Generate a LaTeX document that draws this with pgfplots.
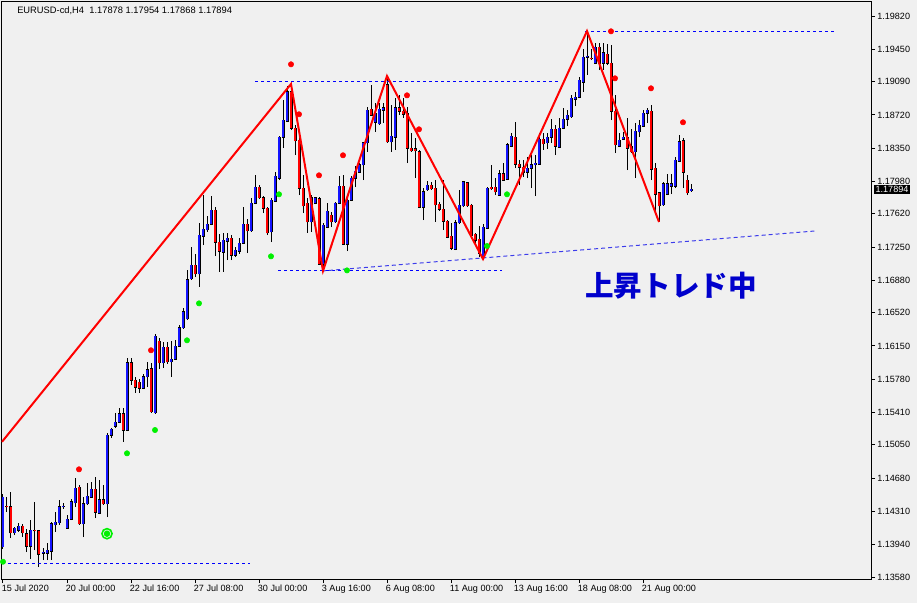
\documentclass[border=0pt]{standalone}
\usepackage{pgfplots}
\pgfplotsset{compat=1.18}
\usepackage{pgfplotstable}
\usepackage{fontspec}
\setmainfont{Liberation Sans}
\newfontfamily\cjk{Noto Sans CJK JP}
\definecolor{bg}{RGB}{240,240,240}
\definecolor{upc}{RGB}{20,20,255}
\definecolor{dnc}{RGB}{255,0,0}
\definecolor{jp}{RGB}{0,0,204}
\definecolor{dotg}{RGB}{0,240,0}
\definecolor{dotr}{RGB}{255,0,0}
\definecolor{lvl}{RGB}{0,0,255}
\definecolor{trend}{RGB}{60,60,235}

\pgfplotstableread{
i O H L C
0 1.13914 1.14504 1.13892 1.14470
1 1.14370 1.14470 1.14303 1.14359
2 1.14359 1.14526 1.14014 1.14070
3 1.14070 1.14136 1.14047 1.14125
4 1.14103 1.14181 1.14081 1.14147
5 1.14147 1.14170 1.14025 1.14070
6 1.14059 1.14114 1.13858 1.13925
7 1.13925 1.14214 1.13780 1.14103
8 1.14103 1.14415 1.13880 1.14092
9 1.14092 1.14103 1.13691 1.13836
10 1.13847 1.13903 1.13769 1.13858
11 1.13847 1.13959 1.13769 1.13880
12 1.13869 1.14192 1.13769 1.14170
13 1.14159 1.14303 1.14081 1.14192
14 1.14181 1.14437 1.14159 1.14359
15 1.14359 1.14404 1.14337 1.14370
16 1.14125 1.14270 1.14125 1.14225
17 1.14225 1.14448 1.14214 1.14415
18 1.14404 1.14681 1.14359 1.14570
19 1.14581 1.14603 1.14159 1.14170
20 1.14170 1.14470 1.14025 1.14393
21 1.14393 1.14626 1.14381 1.14481
22 1.14470 1.14637 1.14459 1.14559
23 1.14559 1.14692 1.14236 1.14303
24 1.14292 1.14659 1.14281 1.14437
25 1.14437 1.14603 1.14381 1.14393
26 1.14393 1.15182 1.14247 1.15159
27 1.15159 1.15237 1.15126 1.15226
28 1.15259 1.15405 1.15237 1.15304
29 1.15304 1.15460 1.15293 1.15394
30 1.15394 1.15460 1.15082 1.15215
31 1.15215 1.16016 1.15204 1.15961
32 1.15961 1.16016 1.15715 1.15771
33 1.15771 1.15805 1.15627 1.15693
34 1.15749 1.15782 1.15627 1.15682
35 1.15682 1.15839 1.15671 1.15805
36 1.15805 1.15972 1.15693 1.15883
37 1.15894 1.15961 1.15405 1.15416
38 1.15405 1.16283 1.15394 1.16260
39 1.16205 1.16238 1.15894 1.15961
40 1.15961 1.16194 1.15905 1.16138
41 1.16138 1.16194 1.15950 1.15972
42 1.15972 1.16205 1.15805 1.16005
43 1.16005 1.16216 1.15994 1.16149
44 1.16149 1.16383 1.16138 1.16350
45 1.16350 1.16572 1.16339 1.16528
46 1.16450 1.16995 1.16439 1.16884
47 1.16895 1.17250 1.16884 1.17050
48 1.17050 1.17173 1.16917 1.16951
49 1.16951 1.17518 1.16806 1.17384
50 1.17373 1.17829 1.17272 1.17451
51 1.17440 1.17595 1.17418 1.17506
52 1.17506 1.17818 1.17495 1.17662
53 1.17662 1.17695 1.17150 1.17306
54 1.17306 1.17395 1.16973 1.17206
55 1.17195 1.17407 1.16973 1.17328
56 1.17317 1.17407 1.17106 1.17350
57 1.17350 1.17384 1.17106 1.17161
58 1.17161 1.17250 1.17139 1.17217
59 1.17206 1.17350 1.17173 1.17295
60 1.17295 1.17695 1.17284 1.17506
61 1.17506 1.17562 1.17184 1.17429
62 1.17429 1.17796 1.17418 1.17740
63 1.17740 1.18051 1.17729 1.17918
64 1.17918 1.17940 1.17785 1.17796
65 1.17796 1.17818 1.17629 1.17684
66 1.17684 1.17695 1.17384 1.17407
67 1.17418 1.17796 1.17306 1.17773
68 1.17762 1.18085 1.17751 1.18040
69 1.18018 1.18485 1.17996 1.18474
70 1.18474 1.18886 1.18352 1.18663
71 1.18652 1.19042 1.18641 1.18975
72 1.18975 1.19064 1.18552 1.18574
73 1.18574 1.18607 1.18274 1.18430
74 1.18441 1.18463 1.17829 1.17907
75 1.17907 1.18051 1.17629 1.17707
76 1.17740 1.17796 1.17407 1.17529
77 1.17529 1.17829 1.17418 1.17796
78 1.17740 1.17807 1.17729 1.17796
79 1.17785 1.17807 1.17050 1.17061
80 1.17061 1.17518 1.16984 1.17495
81 1.17473 1.17740 1.17462 1.17651
82 1.17606 1.17640 1.17473 1.17529
83 1.17529 1.17751 1.17518 1.17740
84 1.17740 1.18040 1.17729 1.17929
85 1.17929 1.18051 1.17272 1.17284
86 1.17284 1.17807 1.17206 1.17773
87 1.17773 1.18040 1.17762 1.18018
88 1.18018 1.18151 1.17918 1.18096
89 1.18085 1.18185 1.18074 1.18163
90 1.18163 1.18419 1.17996 1.18408
91 1.18408 1.18808 1.18308 1.18774
92 1.18785 1.19053 1.18708 1.18719
93 1.18641 1.18853 1.18530 1.18741
94 1.18619 1.18853 1.18607 1.18785
95 1.18774 1.18853 1.18630 1.18797
96 1.19053 1.19153 1.18408 1.18419
97 1.18419 1.18830 1.18308 1.18485
98 1.18474 1.18908 1.18330 1.18797
99 1.18797 1.18942 1.18719 1.18763
100 1.18763 1.18908 1.18686 1.18730
101 1.18741 1.18808 1.18185 1.18352
102 1.18352 1.18519 1.18308 1.18319
103 1.18341 1.18463 1.18018 1.18319
104 1.18308 1.18330 1.17684 1.17695
105 1.17695 1.17907 1.17551 1.17863
106 1.17885 1.17985 1.17874 1.17940
107 1.17940 1.17974 1.17885 1.17896
108 1.17907 1.17996 1.17529 1.17718
109 1.17729 1.17751 1.17651 1.17673
110 1.17673 1.17996 1.17440 1.17540
111 1.17540 1.17551 1.17350 1.17362
112 1.17373 1.17518 1.17217 1.17239
113 1.17228 1.17551 1.17217 1.17518
114 1.17518 1.17885 1.17506 1.17718
115 1.17707 1.17985 1.17695 1.17974
116 1.17963 1.17974 1.17695 1.17707
117 1.17718 1.17729 1.17373 1.17384
118 1.17395 1.17407 1.17295 1.17328
119 1.17339 1.17484 1.17139 1.17184
120 1.17150 1.17506 1.17117 1.17473
121 1.17462 1.17918 1.17451 1.17907
122 1.17918 1.18163 1.17885 1.17896
123 1.17918 1.18018 1.17829 1.17863
124 1.17829 1.18107 1.17818 1.18063
125 1.18063 1.18185 1.17985 1.17996
126 1.18007 1.18408 1.17996 1.18386
127 1.18374 1.18519 1.18363 1.18485
128 1.18474 1.18641 1.18129 1.18174
129 1.18174 1.18218 1.17940 1.18140
130 1.18140 1.18218 1.18029 1.18085
131 1.18085 1.18252 1.18018 1.18129
132 1.18129 1.18274 1.17907 1.18163
133 1.18163 1.18274 1.17818 1.18185
134 1.18174 1.18519 1.18163 1.18452
135 1.18452 1.18519 1.18330 1.18397
136 1.18408 1.18519 1.18341 1.18474
137 1.18474 1.18674 1.18408 1.18563
138 1.18563 1.18607 1.18274 1.18374
139 1.18363 1.18686 1.18352 1.18574
140 1.18574 1.18797 1.18563 1.18674
141 1.18674 1.18774 1.18596 1.18719
142 1.18697 1.18942 1.18686 1.18908
143 1.18897 1.18975 1.18819 1.18919
144 1.18919 1.19142 1.18908 1.19108
145 1.19086 1.19453 1.18975 1.19364
146 1.19364 1.19653 1.19164 1.19375
147 1.19353 1.19453 1.19331 1.19342
148 1.19297 1.19520 1.19286 1.19475
149 1.19475 1.19520 1.19219 1.19297
150 1.19297 1.19520 1.19219 1.19409
151 1.19397 1.19508 1.19275 1.19297
152 1.19297 1.19497 1.18663 1.18763
153 1.18763 1.18942 1.18296 1.18386
154 1.18374 1.18519 1.18363 1.18441
155 1.18452 1.18530 1.18441 1.18474
156 1.18474 1.18686 1.18107 1.18352
157 1.18374 1.18563 1.18296 1.18308
158 1.18308 1.18630 1.18018 1.18541
159 1.18530 1.18663 1.18474 1.18607
160 1.18596 1.18774 1.18585 1.18741
161 1.18741 1.18797 1.18630 1.18774
162 1.18763 1.18830 1.17996 1.18118
163 1.18129 1.18185 1.17606 1.17840
164 1.17852 1.17863 1.17529 1.17707
165 1.17718 1.17974 1.17707 1.17952
166 1.17840 1.18063 1.17829 1.17952
167 1.17929 1.18063 1.17840 1.17952
168 1.17929 1.18252 1.17907 1.18218
169 1.18207 1.18496 1.18196 1.18419
170 1.18430 1.18463 1.17907 1.18085
171 1.17996 1.18051 1.17829 1.17852
172 1.17878 1.17954 1.17868 1.17894
}\candles

\begin{document}
\begin{tikzpicture}
\fill[bg] (0,0) rectangle (687.75pt,452.25pt);
\useasboundingbox (0,0) rectangle (687.75pt,452.25pt);
\node[anchor=west, inner sep=0pt, font=\fontsize{7}{8}\selectfont] at (12.75pt,444pt) {EURUSD-cd,H4\ \ 1.17878 1.17954 1.17868 1.17894};
\begin{axis}[
  at={(1.5pt,18pt)}, anchor=south west,
  scale only axis, width=651.75pt, height=432.75pt,
  xmin=-0.25, xmax=217, ymin=1.13558, ymax=1.19976,
  clip=false,
  axis line style={black, line width=0.75pt},
  tick style={black, line width=0.75pt},
  major tick length=3pt,
  tick align=outside,
  xtick pos=bottom, ytick pos=right,
  yticklabel pos=right,
  /pgf/number format/assume math mode=true,
  xtick={0,16,32,48,64,80,96,112,128,144,160},
  xticklabels={15 Jul 2020,20 Jul 00:00,22 Jul 16:00,27 Jul 08:00,30 Jul 00:00,3 Aug 16:00,6 Aug 08:00,11 Aug 00:00,13 Aug 16:00,18 Aug 08:00,21 Aug 00:00},
  ytick={1.13580,1.13940,1.14310,1.14680,1.15050,1.15410,1.15780,1.16150,1.16520,1.16880,1.17250,1.17620,1.17980,1.18350,1.18720,1.19090,1.19450,1.19820},
  yticklabels={1.13580,1.13940,1.14310,1.14680,1.15050,1.15410,1.15780,1.16150,1.16520,1.16880,1.17250,1.17620,1.17980,1.18350,1.18720,1.19090,1.19450,1.19820},
  xticklabel style={font=\fontsize{6.8}{8}\selectfont, anchor=north west, inner sep=0pt, xshift=-1pt, yshift=-1.5pt},
  yticklabel style={font=\fontsize{6.8}{8}\selectfont, anchor=west, inner sep=0pt, xshift=1.5pt},
]
% wicks
\addplot[draw=none, mark=none, forget plot, error bars/.cd, y dir=plus, y explicit, error mark=none,
  error bar style={draw=black, line width=0.75pt, solid}]
  table[x=i, y=L, y error plus expr=\thisrow{H}-\thisrow{L}] {\candles};
% body outline
\addplot[draw=none, mark=none, forget plot, error bars/.cd, y dir=plus, y explicit, error mark=none,
  error bar style={draw=black, line width=2.25pt, solid}]
  table[x=i, y expr={min(\thisrow{O},\thisrow{C})-0.0000556}, y error plus expr={abs(\thisrow{C}-\thisrow{O})+0.000111}] {\candles};
% up bodies
\addplot[draw=none, mark=none, forget plot, error bars/.cd, y dir=plus, y explicit, error mark=none,
  error bar style={draw=upc, line width=0.8pt, solid}]
  table[x=i, y=O, y error plus expr={max(\thisrow{C}-\thisrow{O},0)}] {\candles};
% down bodies
\addplot[draw=none, mark=none, forget plot, error bars/.cd, y dir=plus, y explicit, error mark=none,
  error bar style={draw=dnc, line width=0.8pt, solid}]
  table[x=i, y=C, y error plus expr={max(\thisrow{O}-\thisrow{C},0)}] {\candles};

% level lines
\addplot[lvl, line width=0.75pt, dash pattern=on 2.25pt off 2.25pt] coordinates {(63,1.19097) (139.25,1.19097)};
\addplot[lvl, line width=0.75pt, dash pattern=on 2.25pt off 2.25pt] coordinates {(68.75,1.16995) (124.75,1.16995)};
\addplot[lvl, line width=0.75pt, dash pattern=on 2.25pt off 2.25pt] coordinates {(-0.25,1.13725) (61.75,1.13725)};
\addplot[lvl, line width=0.75pt, dash pattern=on 2.25pt off 2.25pt] coordinates {(145.5,1.19653) (208,1.19653)};
\addplot[trend, line width=0.75pt, dash pattern=on 3pt off 2.25pt] coordinates {(79.75,1.16984) (203,1.17429)};

% zigzag
\addplot[dnc, line width=1.5pt] coordinates {(-0.25,1.15084) (72,1.19064) (80,1.16984) (96,1.19153) (120,1.17117) (146,1.19653) (164,1.17529)};

% signal dots
\addplot[only marks, mark=*, mark size=2pt, dotr, mark options={draw=dotr}] coordinates {
(19,1.14778) (37,1.16102) (72,1.19283) (74,1.18727) (79,1.18048) (85,1.18271)
(101,1.18938) (104,1.18560) (152,1.19650) (153,1.19127) (162,1.19016) (170,1.18638)};
\addplot[only marks, mark=*, mark size=2pt, dotg, mark options={draw=dotg}] coordinates {
(0,1.13750) (31,1.14956) (38,1.15215) (46,1.16213) (49,1.16624) (67,1.17147)
(69,1.17837) (86,1.16991) (121,1.17262) (126,1.17837)};
\addplot[only marks, mark=o, mark size=3.8pt, dotg, mark options={line width=1.2pt}] coordinates {(26,1.14062)};
\addplot[only marks, mark=*, mark size=2.2pt, dotg] coordinates {(26,1.14062)};

\node[font={\cjk\bfseries\fontsize{21.4}{24}\selectfont}, text=jp, inner sep=0pt] at (axis cs:167,1.16817) {上昇トレド中};
\node[fill=black, text=white, anchor=west, inner xsep=1pt, inner ysep=0.9pt, font=\fontsize{6.8}{7}\selectfont, xshift=2.25pt] at (axis cs:217,1.17894) {1.17894};
\end{axis}
\end{tikzpicture}
\end{document}
